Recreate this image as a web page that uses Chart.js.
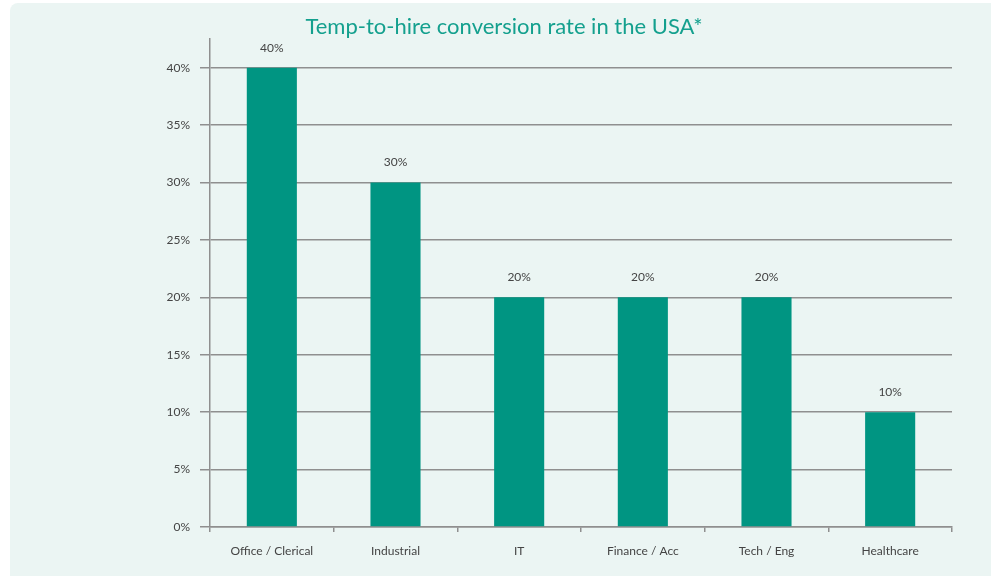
<!DOCTYPE html>
<html><head><meta charset="utf-8">
<script src="https://cdn.jsdelivr.net/npm/chart.js@4/dist/chart.umd.min.js"></script>
<style>html,body{margin:0;padding:0;background:#fff}#wrap{width:991px;height:576px}</style>
</head><body><div id="wrap"><canvas id="c" width="991" height="576"></canvas></div>
<script>
const categories = ["Office / Clerical", "Industrial", "IT", "Finance / Acc", "Tech / Eng", "Healthcare"];
const rates = [40, 30, 20, 20, 20, 10];
const yTicks = [0, 5, 10, 15, 20, 25, 30, 35, 40];
const titleText = "Temp-to-hire conversion rate in the USA*";
const FONT = "Lato";

const panelPlugin = {
  id: 'panel',
  beforeDraw(chart) {
    const ctx = chart.ctx;
    ctx.save();
    ctx.fillStyle = '#ffffff';
    ctx.fillRect(0, 0, chart.width, chart.height);
    ctx.fillStyle = '#ebf5f3';
    ctx.beginPath();
    ctx.roundRect(10, 3, chart.width - 10, chart.height - 3, [8, 0, 0, 0]);
    ctx.fill();
    ctx.fillStyle = '#14a08e';
    ctx.font = '22px ' + FONT;
    ctx.textAlign = 'center';
    ctx.textBaseline = 'middle';
    ctx.fillText(titleText, 504, 27);
    ctx.restore();
  },
  afterDatasetsDraw(chart) {
    const ctx = chart.ctx;
    const meta = chart.getDatasetMeta(0);
    ctx.save();
    ctx.fillStyle = '#444444';
    ctx.font = '12px ' + FONT;
    ctx.textAlign = 'center';
    ctx.textBaseline = 'middle';
    meta.data.forEach((bar, i) => {
      ctx.fillText(rates[i] + '%', bar.x, bar.y - 20);
    });
    ctx.restore();
  }
};

new Chart(document.getElementById('c'), {
  type: 'bar',
  data: {
    labels: categories,
    datasets: [{
      data: rates,
      backgroundColor: '#009582',
      barPercentage: 0.405,
      categoryPercentage: 1
    }]
  },
  options: {
    responsive: false,
    animation: false,
    layout: { padding: { left: 0, right: 39, top: 39, bottom: 0 } },
    plugins: { legend: { display: false }, tooltip: { enabled: false } },
    scales: {
      x: {
        offset: true,
        grid: { display: true, drawOnChartArea: false, offset: true, color: '#8f8f8f', lineWidth: 1.5, tickLength: 5 },
        border: { display: true, color: '#8f8f8f', width: 1.5 },
        ticks: { color: '#444444', font: { family: FONT, size: 12 }, padding: 12, maxRotation: 0 },
        afterFit(s) { s.height = 49; }
      },
      y: {
        min: 0,
        max: 42.5,
        afterBuildTicks(s) { s.ticks = yTicks.map(v => ({ value: v })); },
        grid: { color: '#8f8f8f', lineWidth: 1.5, tickLength: 10 },
        border: { display: true, color: '#8f8f8f', width: 1.5 },
        ticks: { color: '#444444', font: { family: FONT, size: 12 }, padding: 10, callback: v => v + '%' },
        afterFit(s) { s.width = 210; }
      }
    }
  },
  plugins: [panelPlugin]
});
</script>
</body></html>
